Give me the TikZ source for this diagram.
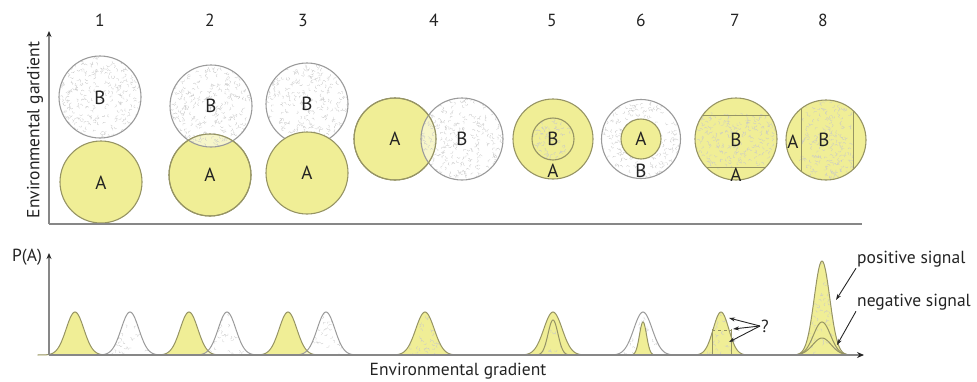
\documentclass[tikz,border=0pt]{standalone}
\usepackage{fontspec}
\setmainfont{PT Sans}
\usetikzlibrary{arrows.meta}
\definecolor{ayel}{RGB}{240,238,150}
\definecolor{aline}{RGB}{150,148,100}
\definecolor{bline}{RGB}{155,155,155}
\definecolor{axisc}{RGB}{135,135,135}
\definecolor{txt}{RGB}{35,35,35}
\tikzset{
  squigline/.style={draw=gray!42,line width=0.3pt},
  lab/.style={font=\fontsize{17.5}{19}\selectfont,text=txt,inner sep=1pt},
  cl/.style={font=\fontsize{19}{21}\selectfont,text=txt,inner sep=1pt},
  axisline/.style={draw=axisc,line width=1.5pt},
  arr/.style={draw=black!85,line width=0.9pt,-{Stealth[length=6pt,width=4pt]}},
}
\newcommand{\squig}[5]{%
  \foreach \k in {1,...,#5}{%
    \pgfmathsetmacro{\px}{#1+rnd*(#3)}%
    \pgfmathsetmacro{\py}{#2+rnd*(#4)}%
    \pgfmathsetmacro{\pa}{rnd*360}%
    \draw[squigline] (\px,\py) arc[start angle=\pa, delta angle=150, radius=1.6pt];
  }}
\newcommand{\bdisc}[4]{% x y r opacity
  \fill[white,fill opacity=#4] (#1,#2) circle[radius=#3pt];
  \begin{scope}\clip (#1,#2) circle[radius=#3pt];
    \squig{#1-#3}{#2-#3}{2*#3}{2*#3}{300}\end{scope}
  \draw[bline,line width=1.1pt] (#1,#2) circle[radius=#3pt];}
\newcommand{\adisc}[3]{%
  \fill[ayel] (#1,#2) circle[radius=#3pt];
  \draw[aline,line width=1.1pt] (#1,#2) circle[radius=#3pt];}
\newcommand{\aring}[3]{\draw[aline,line width=1.1pt] (#1,#2) circle[radius=#3pt];}
% bells: centre, height, sigma
\newcommand{\bellfill}[4]{%
  \pgfmathsetmacro{\bA}{#1-3*#3}\pgfmathsetmacro{\bB}{#1+3*#3}%
  \fill[#4] plot[domain=\bA:\bB,samples=61] (\x,{355-(#2)*exp(-((\x-(#1))/(#3))*((\x-(#1))/(#3)))}) -- cycle;}
\newcommand{\belldraw}[4]{%
  \pgfmathsetmacro{\bA}{#1-3*#3}\pgfmathsetmacro{\bB}{#1+3*#3}%
  \draw[#4,line width=1pt] plot[domain=\bA:\bB,samples=61] (\x,{355-(#2)*exp(-((\x-(#1))/(#3))*((\x-(#1))/(#3)))});}
\newcommand{\belltex}[4]{%
  \pgfmathsetmacro{\bA}{#1-3*#3}\pgfmathsetmacro{\bB}{#1+3*#3}%
  \begin{scope}
  \clip plot[domain=\bA:\bB,samples=61] (\x,{355-(#2)*exp(-((\x-(#1))/(#3))*((\x-(#1))/(#3)))}) -- cycle;
  \squig{\bA}{355-#2}{6*#3}{#2}{#4}\end{scope}}
\begin{document}
\begin{tikzpicture}[x=1pt,y=-1pt]
\pgfmathsetseed{7}
\useasboundingbox (0,0) rectangle (977,381);
% column numbers
\foreach \n/\xx in {1/100,2/210,3/303,4/434,5/552,6/641,7/735,8/823}
  \node[lab] (num\n) at (\xx,20) {\n};
% ---- top panel ----
% 1
\bdisc{100}{97}{41}{1}
\adisc{101}{182}{41}
\node[cl] (b1) at (100,98) {B};
\node[cl] (a1) at (101,183) {A};
% 2
\adisc{210}{175}{41}
\bdisc{211}{106}{41}{0.5}
\aring{210}{175}{41}
\node[cl] (b2) at (211,106) {B};
\node[cl] (a2) at (210,175) {A};
% 3
\bdisc{307}{104}{41}{1}
\adisc{307}{173}{41}
\node[cl] (b3) at (307,104) {B};
\node[cl] (a3) at (307,173) {A};
% 4
\adisc{395}{139}{41}
\bdisc{462}{139}{41}{0.5}
\aring{395}{139}{41}
\node[cl] (a4) at (395,139) {A};
\node[cl] (b4) at (462,139) {B};
% 5
\adisc{553}{139}{40}
\begin{scope}\clip (553,139) circle[radius=21pt];
  \squig{532}{118}{42}{42}{80}\end{scope}
\aring{553}{139}{21}
\node[cl] (b5) at (553,139) {B};
\node[cl] (a5) at (553,171) {A};
% 6
\bdisc{641}{139}{39.5}{1}
\adisc{641}{139}{20}
\node[cl] (a6) at (641,139) {A};
\node[cl] (b6) at (641,171) {B};
% 7
\fill[ayel] (736,139) circle[radius=41pt];
\begin{scope}\clip (736,139) circle[radius=41pt];
  \squig{695}{115}{82}{52}{220}
  \draw[aline,line width=1pt] (690,115) -- (782,115) (690,167) -- (782,167);
\end{scope}
\aring{736}{139}{41}
\node[cl] (b7) at (736,140) {B};
\node[cl] (a7) at (736,175) {A};
% 8
\fill[ayel] (826,140) circle[radius=40pt];
\begin{scope}\clip (826,140) circle[radius=40pt];
  \squig{801}{98}{52}{84}{220}
  \draw[aline,line width=1pt] (801,95) -- (801,185) (853,95) -- (853,185);
\end{scope}
\aring{826}{140}{40}
\node[cl] (a8) at (793,142) {A};
\node[cl] (b8) at (824,140) {B};
% top axes
\coordinate (o1) at (49,224);
\coordinate (y1) at (49,31);
\coordinate (x1) at (862,224);
\draw[axisline] (o1) -- (x1);
\draw[axisline,-{Stealth[length=6pt,width=5pt,color=black!85]}] (o1) -- (y1);
\node[lab,rotate=90] (ylab) at (35,130) {Environmental gardient};
% ---- bottom panel ----
% 1
\bellfill{75}{43}{12.5}{ayel}\belldraw{75}{43}{12.5}{aline}
\bellfill{130}{43}{12.5}{white}\belltex{130}{43}{12.5}{90}\belldraw{130}{43}{12.5}{bline}
% 2
\bellfill{189}{43}{12.5}{ayel}
\bellfill{227}{43}{12.5}{white,fill opacity=0.5}\belltex{227}{43}{12.5}{90}
\belldraw{189}{43}{12.5}{aline}\belldraw{227}{43}{12.5}{bline}
% 3
\bellfill{288}{43}{12.5}{ayel}
\bellfill{326}{43}{12.5}{white,fill opacity=0.5}\belltex{326}{43}{12.5}{90}
\belldraw{288}{43}{12.5}{aline}\belldraw{326}{43}{12.5}{bline}
% 4
\bellfill{425}{43}{13}{ayel}\belltex{425}{43}{13}{90}\belldraw{425}{43}{13}{aline}
% 5
\bellfill{553}{43}{13}{ayel}\belltex{553}{35}{7}{35}
\belldraw{553}{43}{13}{aline}\belldraw{553}{35}{7}{aline}
% 6
\bellfill{643}{43}{13}{white}\belltex{643}{43}{13}{90}
\bellfill{643}{33}{5}{ayel}
\belldraw{643}{43}{13}{bline}\belldraw{643}{33}{5}{aline}
% 7
\bellfill{721}{43}{11}{ayel}\belltex{721}{43}{11}{80}
\draw[aline,line width=0.9pt] (712,355) -- (712,329) (731,355) -- (731,329);
\draw[aline,line width=0.9pt,dashed] (712,330) -- (731,330);
\belldraw{721}{43}{11}{aline}
% 8
\bellfill{822}{94}{11}{ayel}\belltex{822}{94}{11}{160}
\belldraw{822}{94}{11}{aline}
\belldraw{822}{33}{12}{aline}
\belldraw{822}{17}{13}{aline}
% bottom axes
\coordinate (o2) at (49,355);
\coordinate (y2) at (49,253);
\coordinate (x2) at (864,355);
\draw[axisline,-{Stealth[length=7pt,width=6pt,color=black!85]}] (o2) -- (x2);
\draw[axisline,-{Stealth[length=6pt,width=5pt,color=black!85]}] (o2) -- (y2);
\node[lab] (pa) at (27,257) {P(A)};
\node[lab] (xlab) at (458,371) {Environmental gradient};
% question arrows
\node[lab] (q) at (765,326) {?};
\coordinate (q1) at (729,318);
\coordinate (q2) at (733,329);
\coordinate (q3) at (729,342);
\draw[arr] (q.west) -- (q1);
\draw[arr] (q.west) -- (q2);
\draw[arr] (q.west) -- (q3);
% signal labels
\node[lab,anchor=west] (pos) at (856,259) {positive signal};
\node[lab,anchor=west] (neg) at (856,302) {negative signal};
\coordinate (ptip) at (836,300);
\coordinate (ntip) at (837,345);
\draw[arr] (pos.south west) -- (ptip);
\draw[arr] (neg.south west) -- (ntip);
\end{tikzpicture}
\end{document}
